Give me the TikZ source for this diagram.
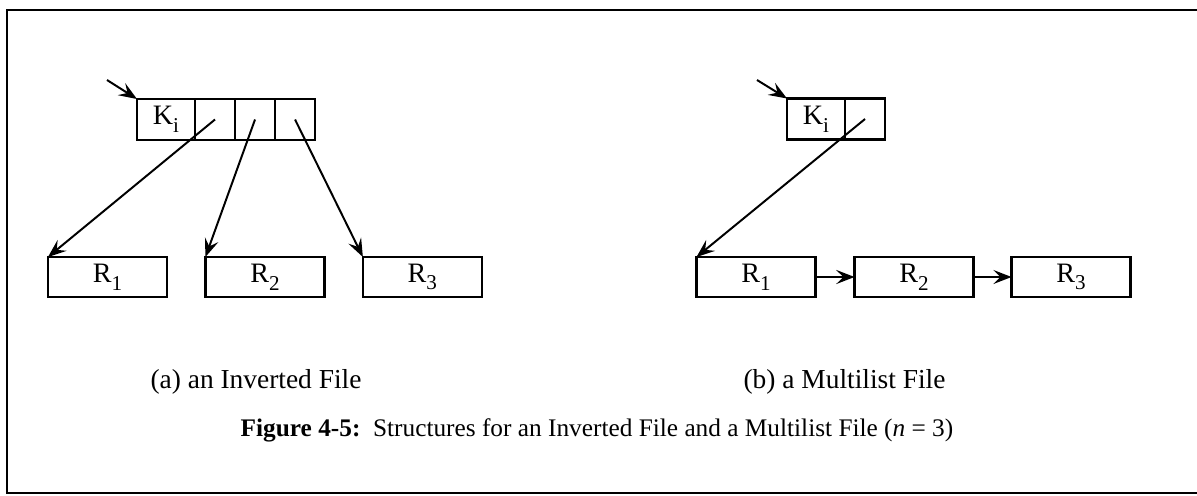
\documentclass[tikz,border=0pt]{standalone}
\usepackage{fontspec}
\setmainfont{Liberation Serif}
\usetikzlibrary{arrows.meta, positioning}
\newcommand{\lowsub}[1]{\raisebox{-0.6ex}{\fontsize{15}{15}\selectfont #1}}

\begin{document}
\begin{tikzpicture}[
    x=0.025cm, y=-0.025cm,
    every node/.style={font=\fontsize{20}{22}\selectfont},
    keycell/.style={rectangle, draw, line width=1.7pt, outer sep=0pt, inner sep=0pt, minimum width=1.45cm, minimum height=1.025cm},
    ptrcell/.style={keycell, minimum width=1.0cm},
    rec/.style={rectangle, draw, line width=1.7pt, outer sep=0pt, inner sep=0pt, minimum width=2.975cm, minimum height=1.0cm},
    subcap/.style={inner sep=0pt, font=\fontsize{19.5}{22}\selectfont},
    arrow/.style={-{Stealth[length=13pt, width=10pt, inset=5pt]}, line width=1.4pt}
]
\useasboundingbox (0,0) rectangle (1197,495);
\draw[line width=1.4pt] (1197,10) -- (7,10) -- (7,493) -- (1197,493);

% (a) inverted file
\node[keycell] (keyA) at (166,119.5) {K\lowsub{i}};
\node[ptrcell, right=0pt of keyA] (ptrA1) {};
\node[ptrcell, right=0pt of ptrA1] (ptrA2) {};
\node[ptrcell, right=0pt of ptrA2] (ptrA3) {};
\node[rec] (recA1) at (107.5,277) {R\lowsub{1}};
\node[rec, right=0.96cm of recA1] (recA2) {R\lowsub{2}};
\node[rec, right=0.96cm of recA2] (recA3) {R\lowsub{3}};
\coordinate (inA) at (107,80);

\draw[arrow] (inA) -- (keyA.north west);
\draw[arrow] (ptrA1.center) -- (recA1.north west);
\draw[arrow] (ptrA2.center) -- (recA2.north west);
\draw[arrow] (ptrA3.center) -- (recA3.north west);

% (b) multilist file
\node[keycell] (keyB) at (816,119) {K\lowsub{i}};
\node[ptrcell, right=0pt of keyB] (ptrB) {};
\node[rec] (recB1) at (756,277) {R\lowsub{1}};
\node[rec, right=0.975cm of recB1] (recB2) {R\lowsub{2}};
\node[rec, right=0.95cm of recB2] (recB3) {R\lowsub{3}};
\coordinate (inB) at (757,80);

\draw[arrow] (inB) -- (keyB.north west);
\draw[arrow] (ptrB.center) -- (recB1.north west);
\draw[arrow] (recB1) -- (recB2);
\draw[arrow] (recB2) -- (recB3);

\node[subcap] (capA) at (256,382) {(a) an Inverted File};
\node[subcap] (capB) at (844.5,382) {(b) a Multilist File};
\node[subcap, font=\fontsize{18}{20}\selectfont] (caption) at (597,430) {\textbf{Figure 4-5:}\ \ Structures for an Inverted File and a Multilist File (\textit{n} = 3)};
\end{tikzpicture}
\end{document}
